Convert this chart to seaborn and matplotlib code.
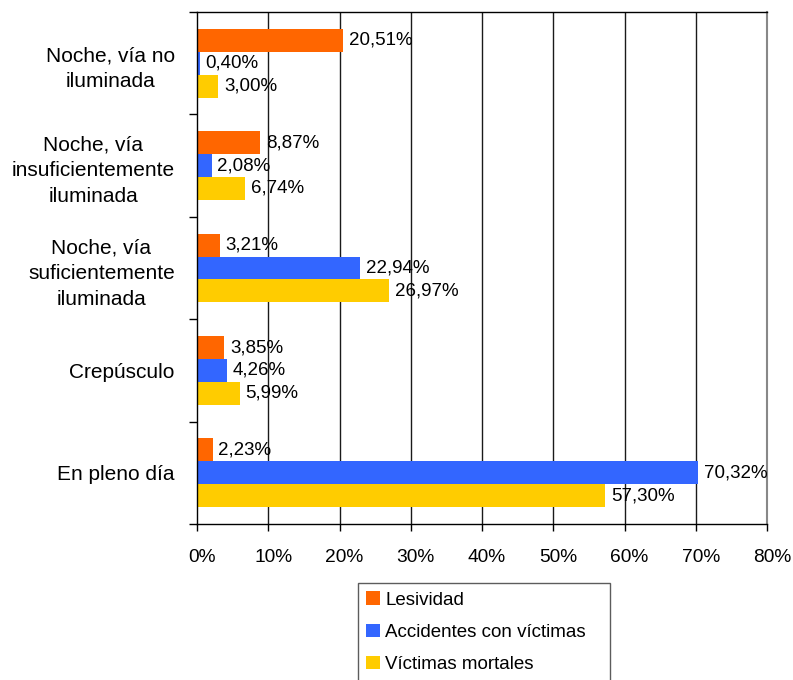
import matplotlib
matplotlib.use("Agg")
import matplotlib.pyplot as plt
import matplotlib.transforms as mtransforms
import seaborn as sns
import pandas as pd
import numpy as np

categories = [
    "Noche, vía no\niluminada",
    "Noche, vía\ninsuficientemente\niluminada",
    "Noche, vía\nsuficientemente\niluminada",
    "Crepúsculo",
    "En pleno día",
]
series = ["Lesividad", "Accidentes con víctimas", "Víctimas mortales"]
lesividad = [20.51, 8.87, 3.21, 3.85, 2.23]
accidentes = [0.40, 2.08, 22.94, 4.26, 70.32]
mortales = [3.00, 6.74, 26.97, 5.99, 57.30]
colors = ["#FF6600", "#3366FF", "#FFCC00"]
xticks = [0, 10, 20, 30, 40, 50, 60, 70, 80]

df = pd.DataFrame({
    "categoria": categories * 3,
    "serie": [s for s in series for _ in categories],
    "valor": lesividad + accidentes + mortales,
})

sns.set_theme(style="white")
plt.rcParams["font.family"] = ["Liberation Sans", "DejaVu Sans"]
plt.rcParams["text.color"] = "black"
plt.rcParams["xtick.color"] = "black"
plt.rcParams["ytick.color"] = "black"
plt.rcParams["axes.labelcolor"] = "black"

fig = plt.figure(figsize=(7.93, 6.8), dpi=100)
ax = fig.add_axes([197 / 793, 1 - 524 / 680, 570 / 793, 512 / 680])

sns.barplot(data=df, y="categoria", x="valor", hue="serie", order=categories,
            hue_order=series, palette=colors, orient="h", width=0.67,
            saturation=1, gap=0, linewidth=0, errorbar=None, ax=ax, legend=True)

for cont in ax.containers:
    ax.bar_label(cont, labels=[f"{v:.2f}".replace(".", ",") + "%" for v in cont.datavalues],
                 padding=4, fontsize=13.5, color="black")

ax.set_xlim(0, 80)
ax.set_ylim(len(categories) - 0.5, -0.5)
ax.set_xticks(xticks)
ax.set_xticklabels([f"{t}%" for t in xticks], fontsize=13.8)
ax.tick_params(axis="x", direction="out", length=5, width=1, color="black", pad=13, bottom=True)
shift = mtransforms.ScaledTranslation(5 / 100, 0, fig.dpi_scale_trans)
for lbl in ax.get_xticklabels():
    lbl.set_transform(lbl.get_transform() + shift)

ax.set_yticks(range(len(categories)))
ax.set_yticklabels(categories, fontsize=15, multialignment="center", linespacing=1.45)
ax.tick_params(axis="y", which="major", length=0, pad=16)
ax.set_yticks(np.arange(-0.5, len(categories), 1), minor=True)
ax.tick_params(axis="y", which="minor", direction="out", length=6, width=1, color="black", left=True)

for t in xticks[1:-1]:
    ax.axvline(t, color="#1a1a1a", lw=1, zorder=0)

for side in ["left", "bottom", "top"]:
    ax.spines[side].set_color("black")
    ax.spines[side].set_linewidth(1)
ax.spines["right"].set_color("#888888")
ax.spines["right"].set_linewidth(1.5)

ax.set_xlabel("")
ax.set_ylabel("")

handles, labels = ax.get_legend_handles_labels()
ax.get_legend().remove()
leg_h = 0.16
leg = fig.legend(handles, labels, loc="upper left",
                 bbox_to_anchor=(358 / 793, 1 - 583 / 680 - leg_h, 252 / 793, leg_h),
                 mode="expand", frameon=True, fancybox=False, fontsize=13.5,
                 handlelength=0.7, handleheight=0.7, handletextpad=0.3,
                 labelspacing=0.8, borderpad=0.45, borderaxespad=0)
leg.get_frame().set_edgecolor("#333333")
leg.get_frame().set_linewidth(1)

fig.savefig("out.png", dpi=100)
